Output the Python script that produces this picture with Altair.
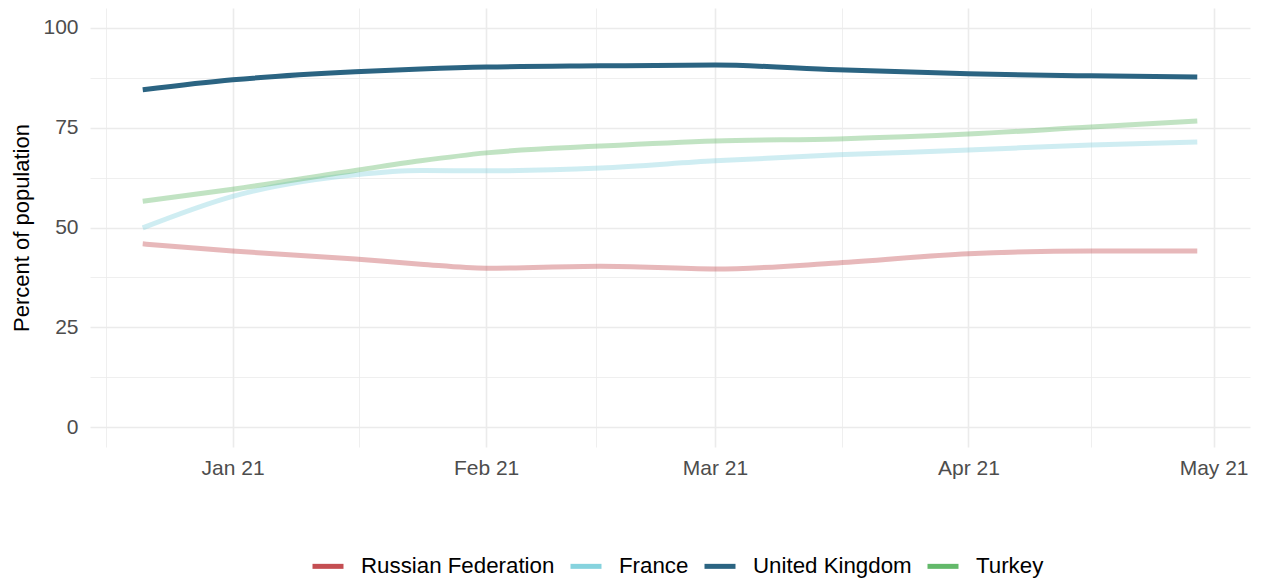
import altair as alt
import pandas as pd

countries = ["Russian Federation", "France", "United Kingdom", "Turkey"]
colors = ["#C44E52", "#86D3DE", "#2B6482", "#63B96A"]
highlight = "United Kingdom"

dates = ["2020-12-21", "2021-01-01", "2021-01-16", "2021-01-24", "2021-02-01",
         "2021-02-15", "2021-03-01", "2021-03-16", "2021-04-01", "2021-04-16",
         "2021-04-29"]
russia = [45.9, 44.1, 42.1, 40.8, 39.8, 40.3, 39.6, 41.1, 43.4, 44.1, 44.1]
france = [49.9, 57.8, 63.2, 64.3, 64.2, 64.9, 66.7, 68.2, 69.4, 70.7, 71.4]
uk = [84.5, 87.0, 89.0, 89.7, 90.2, 90.5, 90.7, 89.5, 88.5, 88.0, 87.7]
turkey = [56.6, 59.6, 64.3, 66.7, 68.7, 70.4, 71.7, 72.2, 73.4, 75.2, 76.7]

y_ticks = [0, 12.5, 25, 37.5, 50, 62.5, 75, 87.5, 100]
x_ticks = ["2020-12-16 12:00", "2021-01-01", "2021-01-16 12:00", "2021-02-01",
           "2021-02-14 12:00", "2021-03-01", "2021-03-16 12:00", "2021-04-01",
           "2021-04-16", "2021-05-01"]

series = {"Russian Federation": russia, "France": france,
          "United Kingdom": uk, "Turkey": turkey}
rows = []
for c in countries:
    for d, v in zip(dates, series[c]):
        rows.append({"date": d, "value": v, "country": c})
df = pd.DataFrame(rows)

def ms(s):
    return int(pd.Timestamp(s, tz="UTC").value // 10**6)

start = pd.Timestamp(dates[0], tz="UTC")
end = pd.Timestamp(dates[-1], tz="UTC")
span = end - start
dom = [int((start - span * 0.05).value // 10**6), int((end + span * 0.05).value // 10**6)]
x_vals = [ms(s) for s in x_ticks]

font = "Liberation Sans"
major_x = "utcdate(datum.value) == 1 && utchours(datum.value) == 0"
major_y = "datum.value % 25 == 0"

chart = alt.Chart(df).mark_line(strokeWidth=5, strokeCap="butt", interpolate="monotone").encode(
    x=alt.X("date:T", scale=alt.Scale(type="utc", domain=dom, nice=False),
            axis=alt.Axis(values=x_vals, title=None, domain=False, ticks=False,
                          labelExpr=f"{major_x} ? utcFormat(datum.value, '%b %y') : ''",
                          labelFontSize=21, labelColor="#4D4D4D", labelFont=font,
                          labelPadding=10, labelFlush=False, labelOverlap=False,
                          gridColor="#EBEBEB",
                          gridWidth={"condition": {"test": major_x, "value": 1.6}, "value": 0.8})),
    y=alt.Y("value:Q", scale=alt.Scale(domain=[-5, 105], nice=False, zero=False),
            axis=alt.Axis(values=y_ticks, title="Percent of population", domain=False, ticks=False,
                          labelExpr=f"{major_y} ? datum.label : ''",
                          labelFontSize=21, labelColor="#4D4D4D", labelFont=font,
                          labelPadding=12, labelOverlap=False,
                          titleFont=font, titleFontSize=22, titleFontWeight="normal",
                          titleColor="#000000", titlePadding=9,
                          gridColor="#EBEBEB",
                          gridWidth={"condition": {"test": major_y, "value": 1.6}, "value": 0.8})),
    color=alt.Color("country:N", scale=alt.Scale(domain=countries, range=colors),
                    legend=alt.Legend(orient="none", legendX=220, legendY=540,
                                      direction="horizontal", title=None,
                                      symbolType="stroke", symbolStrokeWidth=5,
                                      symbolSize=961, labelFontSize=22.3, labelFont=font,
                                      labelColor="#000000", labelOffset=15, labelLimit=400,
                                      columnPadding=5, symbolOpacity=1)),
    opacity=alt.condition(alt.datum.country == highlight, alt.value(1.0), alt.value(0.4)),
    detail="country:N",
).properties(
    width=1160, height=439,
    autosize=alt.AutoSizeParams(type="none"),
    padding={"left": 82, "top": 0, "right": 4, "bottom": 132},
    background="white",
).configure_view(stroke=None)

chart.save("out.html", embed_options={"renderer": "svg", "actions": False})
